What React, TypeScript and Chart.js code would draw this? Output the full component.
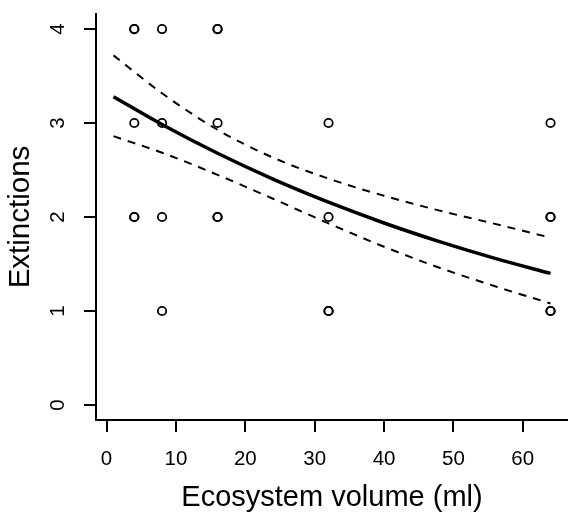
import React, { useEffect, useRef } from "react";
import { Chart, registerables } from "chart.js";

Chart.register(...registerables);

// Observed data: ecosystem volume (ml) vs number of extinctions
const obsX = [4, 4, 4, 4, 4, 8, 8, 8, 8, 16, 16, 16, 16, 16, 32, 32, 32, 32, 64, 64, 64, 64, 64];
const obsY = [4, 4, 3, 2, 2, 4, 3, 2, 1, 4, 4, 3, 2, 2, 3, 2, 1, 1, 3, 2, 2, 1, 1];

// Fitted curve and confidence band
const fitX = [1, 8, 16, 24, 32, 40, 48, 56, 64];
const fitY = [3.28, 2.984, 2.678, 2.403, 2.157, 1.936, 1.738, 1.56, 1.4];
const upperY = [3.72, 3.317, 2.928, 2.632, 2.408, 2.226, 2.068, 1.927, 1.78];
const lowerY = [2.86, 2.684, 2.449, 2.194, 1.932, 1.684, 1.46, 1.263, 1.08];

const xTicks = [0, 10, 20, 30, 40, 50, 60];
const yTicks = [0, 1, 2, 3, 4];

const xTitle = "Ecosystem volume (ml)";
const yTitle = "Extinctions";

const FONT = "'Liberation Sans', Arial, sans-serif";

export default function App() {
  const ref = useRef<HTMLCanvasElement | null>(null);

  useEffect(() => {
    if (!ref.current) return;
    const toPts = (xs: number[], ys: number[]) => xs.map((x, i) => ({ x, y: ys[i] }));

    const yLabelPlugin = {
      id: "yLabels",
      afterDraw(chart: any) {
        const ctx = chart.ctx;
        const ys = chart.scales.y;
        ctx.save();
        ctx.fillStyle = "#000";
        ctx.font = `20.5px ${FONT}`;
        ctx.textAlign = "center";
        ctx.textBaseline = "middle";
        ys.ticks.forEach((t: any) => {
          const py = ys.getPixelForValue(t.value);
          ctx.save();
          ctx.translate(58, py);
          ctx.rotate(-Math.PI / 2);
          ctx.fillText(String(t.value), 0, 0);
          ctx.restore();
        });
        ctx.restore();
      },
    };

    const chart = new Chart(ref.current, {
      type: "scatter",
      data: {
        datasets: [
          {
            label: "obs",
            data: toPts(obsX, obsY),
            showLine: false,
            pointStyle: "circle",
            pointRadius: 4.2,
            pointHoverRadius: 0,
            pointBorderWidth: 1.8,
            pointBorderColor: "#000",
            pointBackgroundColor: "rgba(0,0,0,0)",
          },
          {
            label: "fit",
            data: toPts(fitX, fitY),
            showLine: true,
            borderColor: "#000",
            borderWidth: 3.5,
            pointRadius: 0,
            pointHoverRadius: 0,
            cubicInterpolationMode: "monotone",
          },
          {
            label: "upper",
            data: toPts(fitX, upperY),
            showLine: true,
            borderColor: "#000",
            borderWidth: 2,
            borderDash: [8, 7],
            pointRadius: 0,
            pointHoverRadius: 0,
            cubicInterpolationMode: "monotone",
          },
          {
            label: "lower",
            data: toPts(fitX, lowerY),
            showLine: true,
            borderColor: "#000",
            borderWidth: 2,
            borderDash: [8, 7],
            pointRadius: 0,
            pointHoverRadius: 0,
            cubicInterpolationMode: "monotone",
          },
        ],
      },
      options: {
        responsive: false,
        animation: false,
        events: [],
        layout: { autoPadding: false, padding: { top: 14, left: 0, right: 0, bottom: 0 } },
        plugins: { legend: { display: false }, tooltip: { enabled: false } },
        scales: {
          x: {
            type: "linear",
            min: -1.52,
            max: 66.52,
            afterBuildTicks: (s: any) => {
              s.ticks = xTicks.map((v) => ({ value: v }));
            },
            afterFit: (s: any) => {
              s.height = 99;
              s.paddingLeft = 0;
              s.paddingRight = 0;
            },
            grid: {
              display: true,
              drawOnChartArea: false,
              drawTicks: true,
              tickLength: 12,
              color: "#000",
              lineWidth: 2,
            },
            border: { display: true, color: "#000", width: 2 },
            ticks: {
              color: "#000",
              font: { family: FONT, size: 20.5 },
              padding: 15,
              maxRotation: 0,
              autoSkip: false,
            },
            title: {
              display: true,
              text: xTitle,
              color: "#000",
              font: { family: FONT, size: 29 },
              padding: { top: 0, bottom: 3.5 },
            },
          },
          y: {
            type: "linear",
            min: -0.16,
            max: 4.16,
            afterBuildTicks: (s: any) => {
              s.ticks = yTicks.map((v) => ({ value: v }));
            },
            afterFit: (s: any) => {
              s.width = 96;
              s.paddingTop = 0;
              s.paddingBottom = 0;
            },
            grid: {
              display: true,
              drawOnChartArea: false,
              drawTicks: true,
              tickLength: 12,
              color: "#000",
              lineWidth: 2,
            },
            border: { display: true, color: "#000", width: 2 },
            ticks: { display: false },
            title: {
              display: true,
              text: yTitle,
              color: "#000",
              font: { family: FONT, size: 29.5 },
              padding: { top: 3.5, bottom: 0 },
            },
          },
        },
      },
      plugins: [yLabelPlugin],
    } as any);

    return () => chart.destroy();
  }, []);

  return (
    <div style={{ position: "fixed", left: 0, top: 0, width: 568, height: 519, background: "#fff" }}>
      <canvas ref={ref} width={568} height={519} style={{ width: 568, height: 519, display: "block" }} />
    </div>
  );
}
